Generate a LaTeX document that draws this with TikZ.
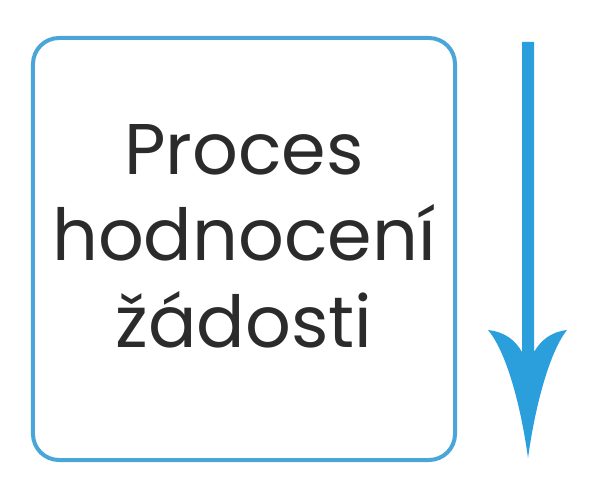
\documentclass[tikz,border=0pt]{standalone}
\usepackage{fontspec}
\setmainfont{Poppins}
\usetikzlibrary{positioning, calc}
\definecolor{boxblue}{HTML}{4AA6D8}
\definecolor{arrowblue}{HTML}{2B9EDC}
\definecolor{textgray}{HTML}{2B2B2B}
\tikzstyle{block} = [rectangle, draw=boxblue, line width=4bp, rounded corners=26bp, minimum width=422bp, minimum height=422bp]
\tikzstyle{label} = [text=textgray, align=center, font=\fontsize{72}{87}\selectfont]

\begin{document}
\begin{tikzpicture}[x=1bp, y=-1bp]
\useasboundingbox (0,0) rectangle (595,494);
\node [block] (box) at (244,249) {};
\node [label] (title) at (244,236) {Proces\\hodnocení\\žádosti};
\coordinate (top) at (528,42);
\coordinate (tip) at (528,458);
% arrow: shaft and curved head
\fill [arrowblue] (tip) .. controls (520,400) and (505,350) .. (488,330)
  .. controls (505,332) and (515,340) .. (522,352) -- (522,42)
  -- (534,42) -- (534,352)
  .. controls (541,340) and (551,332) .. (567,330)
  .. controls (551,350) and (536,400) .. (tip) -- cycle;
\end{tikzpicture}
\end{document}
